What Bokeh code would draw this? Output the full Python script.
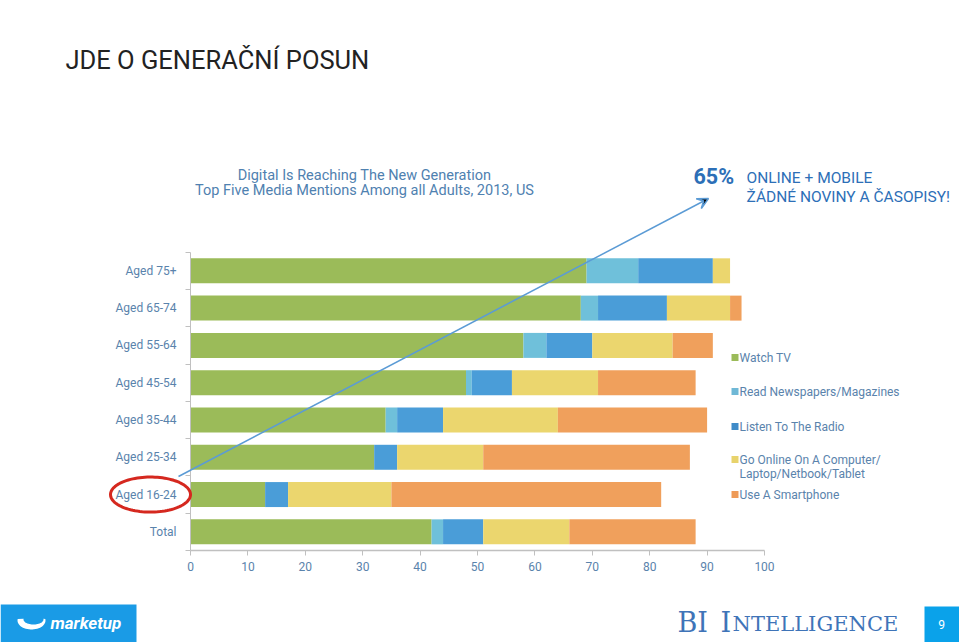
import numpy as np
from bokeh.plotting import figure
from bokeh.models import (Range1d, FixedTicker, Label, Arrow, VeeHead,
                          PolyAnnotation, BoxAnnotation, ColumnDataSource)
from bokeh.embed import file_html
from bokeh.resources import INLINE

# ---------------- data ----------------
categories = ["Total", "Aged 16-24", "Aged 25-34", "Aged 35-44",
              "Aged 45-54", "Aged 55-64", "Aged 65-74", "Aged 75+"]
series_names = ["Watch TV", "Read Newspapers/Magazines", "Listen To The Radio",
                "Go Online On A Computer/", "Use A Smartphone"]
series_names_line2 = ["", "", "", "Laptop/Netbook/Tablet", ""]
watch_tv   = [42, 13, 32, 34, 48, 58, 68, 69]
read_paper = [2,  0,  0,  2,  1,  4,  3,  9]
radio      = [7,  4,  4,  8,  7,  8, 12, 13]
online     = [15, 18, 15, 20, 15, 14, 11, 3]
smartphone = [22, 47, 36, 26, 17, 7,  2,  0]
x_ticks = [0, 10, 20, 30, 40, 50, 60, 70, 80, 90, 100]

colors = ["#9bbb59", "#6fc0da", "#4a9dd8", "#ebd66e", "#f0a05c"]
legend_colors = ["#9bbb59", "#6fb8d6", "#3f8bc8", "#e8d36c", "#ee9a56"]
keys = ["tv", "paper", "radio", "online", "phone"]

# ---------------- geometry helpers (page px -> data) ----------------
W, H = 959, 642
X0_PAGE, PX_X = 190.0, 5.74
Y0_PAGE, PX_Y = 550.0, 37.29   # page y of data y = -0.5

def px(x):
    return (x - X0_PAGE) / PX_X

def py(y):
    return -0.5 + (Y0_PAGE - y) / PX_Y

p = figure(width=W, height=H, output_backend="svg", toolbar_location=None,
           x_range=Range1d(px(0), px(W)), y_range=Range1d(py(H), py(0)),
           min_border=0, min_border_left=0, min_border_right=0,
           min_border_top=0, min_border_bottom=0, title=None)
p.outline_line_color = None
p.grid.visible = False
p.background_fill_color = "white"
p.border_fill_color = "white"

src = ColumnDataSource(dict(y=list(range(len(categories))), tv=watch_tv,
                            paper=read_paper, radio=radio, online=online,
                            phone=smartphone))
p.hbar_stack(keys, y="y", height=0.67, color=colors, line_width=0, source=src)

axis_col = "#c0c0c0"
lab_col = "#5a83ac"

# y axis
yax = p.yaxis[0]
yax.fixed_location = 0
yax.ticker = FixedTicker(ticks=list(range(len(categories))),
                         minor_ticks=[i - 0.5 for i in range(len(categories) + 1)])
yax.major_label_overrides = {i: c for i, c in enumerate(categories)}
yax.bounds = (-0.5, len(categories) - 0.5)
yax.major_tick_out = 0
yax.major_tick_in = 0
yax.minor_tick_out = 5
yax.minor_tick_in = 0
yax.minor_tick_line_color = axis_col
yax.axis_line_color = axis_col
yax.major_label_text_color = lab_col
yax.major_label_text_font = "Roboto"
yax.major_label_text_font_size = "12px"
yax.major_label_standoff = 9

# x axis
xax = p.xaxis[0]
xax.fixed_location = -0.5
xax.ticker = FixedTicker(ticks=x_ticks)
xax.bounds = (0, 100)
xax.major_tick_out = 5
xax.major_tick_in = 0
xax.minor_tick_out = 0
xax.minor_tick_in = 0
xax.major_tick_line_color = axis_col
xax.axis_line_color = axis_col
xax.axis_line_width = 1.5
xax.major_label_text_color = lab_col
xax.major_label_text_font = "Roboto"
xax.major_label_text_font_size = "12px"
xax.major_label_standoff = 6

# ---------------- texts ----------------
def add_label(text, x, y, size, color, font="Roboto", align="left",
              style="normal", baseline="middle"):
    p.add_layout(Label(x=px(x), y=py(y), text=text, text_font=font,
                       text_font_size=size, text_color=color,
                       text_align=align, text_baseline=baseline,
                       text_font_style=style))

add_label("JDE O GENERAČNÍ POSUN", 65, 59, "25.5px", "#222222")
add_label("Digital Is Reaching The New Generation", 364, 175, "14.5px", "#4f81b0",
          align="center")
add_label("Top Five Media Mentions Among all Adults, 2013, US", 364, 190, "14.5px",
          "#4f81b0", align="center")
add_label("65%", 693, 176, "21.5px", "#2d6fb7", style="bold")
add_label("ONLINE + MOBILE", 746, 177, "15.5px", "#2d6fb7")
add_label("ŽÁDNÉ NOVINY A ČASOPISY!", 746, 196, "15.5px", "#2d6fb7")

# arrow
p.add_layout(Arrow(end=VeeHead(size=11, line_color="#5b9bd5", line_width=1.5),
                   x_start=px(178), y_start=py(476), x_end=px(708), y_end=py(198),
                   line_color="#5b9bd5", line_width=1.5))

# red ellipse around Aged 16-24
t = np.linspace(0, 2 * np.pi, 100)
cx, cy, rx, ry = px(150), 1.0, 40 / PX_X, 17.5 / PX_Y
p.add_layout(PolyAnnotation(xs=list(cx + rx * np.cos(t)), ys=list(cy + ry * np.sin(t)),
                            fill_alpha=0, line_color="#d5281f", line_alpha=1,
                            line_width=3))

# legend (manual)
leg_y = [357, 391, 426, 459, 494]
p.scatter(x=[px(734.5)] * 5, y=[py(v) for v in leg_y], marker="square", size=7,
          color=legend_colors, line_width=0)
for name, name2, yy in zip(series_names, series_names_line2, leg_y):
    add_label(name, 739, yy, "12px", lab_col)
    if name2:
        add_label(name2, 739, yy + 14, "12px", lab_col)

# ---------------- footer ----------------
p.add_layout(BoxAnnotation(left=px(0), right=px(136), top=py(604), bottom=py(642),
                           fill_color="#1a9be6", fill_alpha=1, line_width=0,
                           line_alpha=0))
p.add_layout(BoxAnnotation(left=px(924), right=px(960), top=py(606), bottom=py(642),
                           fill_color="#0aa2ea", fill_alpha=1, line_width=0,
                           line_alpha=0))
add_label("9", 941, 624, "12px", "white", align="center")
add_label("marketup", 50, 622, "17px", "white", style="bold italic")
# swoosh
ang = np.linspace(np.pi * 0.95, np.pi * 2.05, 30)
outer_x = 31 + 14 * np.cos(ang)
outer_y = 620 - 9 * np.sin(ang)
inner_x = 33 + 10 * np.cos(ang[::-1])
inner_y = 619 - 5 * np.sin(ang[::-1])
p.add_layout(PolyAnnotation(xs=[px(v) for v in np.concatenate([outer_x, inner_x])],
                            ys=[py(v) for v in np.concatenate([outer_y, inner_y])],
                            fill_color="white", fill_alpha=1, line_width=0,
                            line_alpha=0))
add_label("BI", 677, 622, "27px", "#3f74b8", font="DejaVu Serif")
add_label("I", 720, 622, "27px", "#3f74b8", font="DejaVu Serif")
add_label("NTELLIGENCE", 732, 623, "21px", "#3f74b8", font="DejaVu Serif")

open("out.html", "w").write(file_html(p, INLINE))
